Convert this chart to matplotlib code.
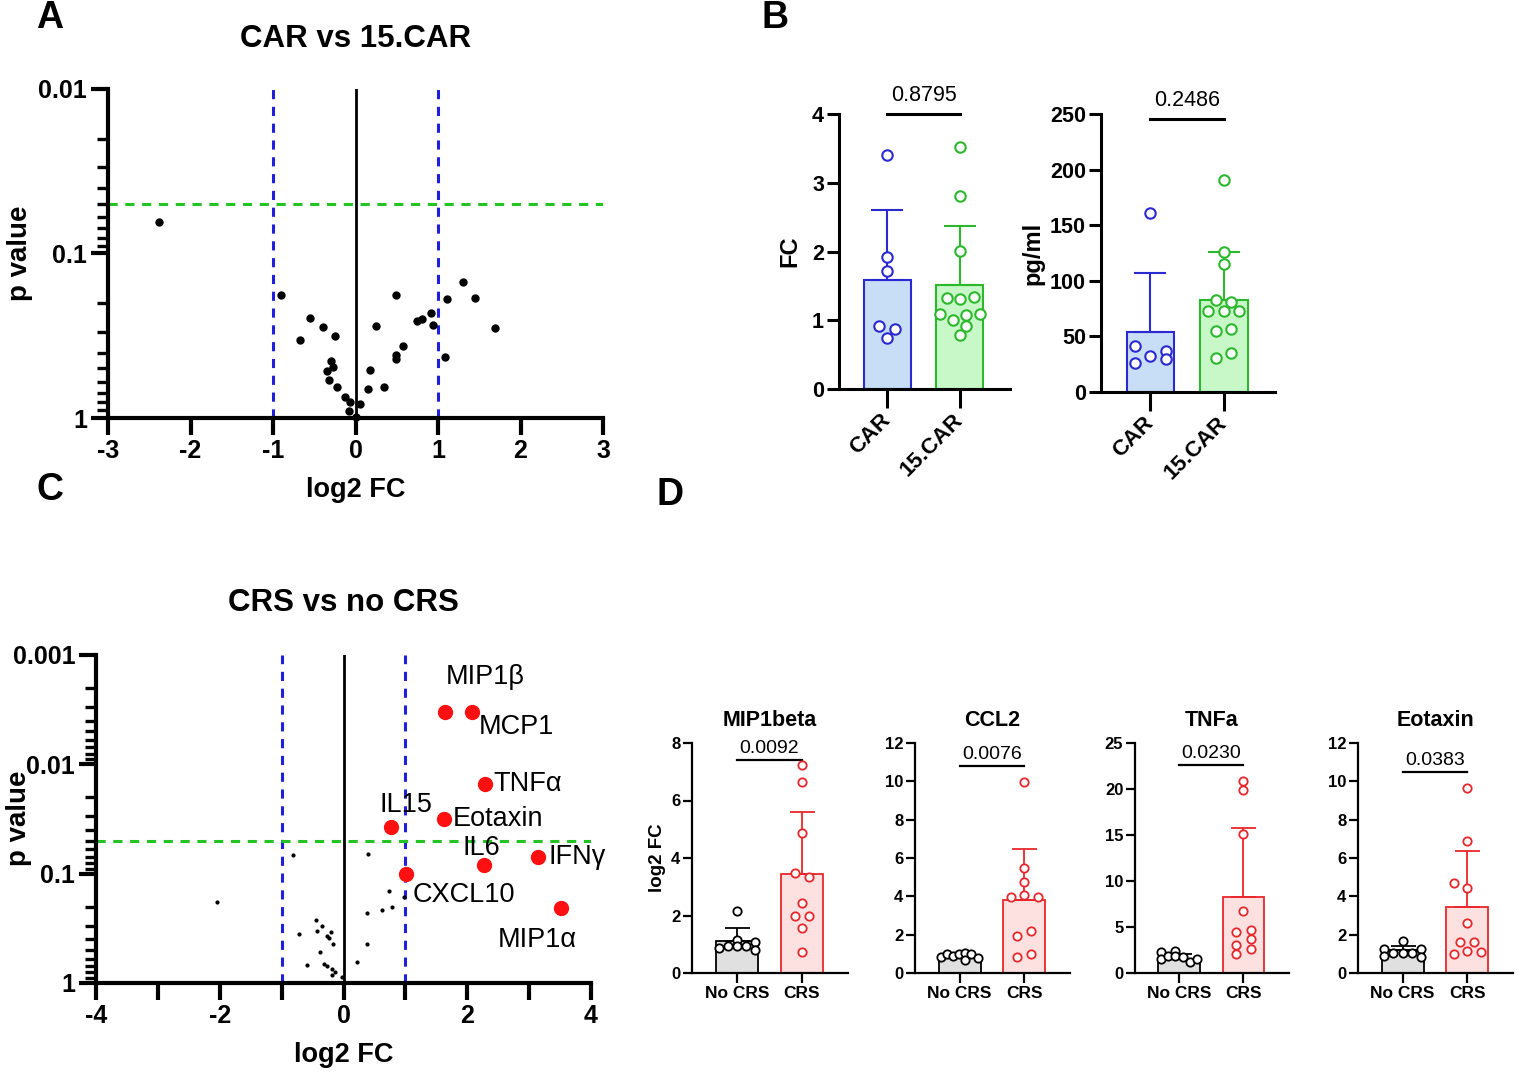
import numpy as np
import matplotlib
matplotlib.use("Agg")
import matplotlib.pyplot as plt
from matplotlib.ticker import LogLocator, NullFormatter, FixedLocator, FixedFormatter

plt.rcParams['font.family'] = ['Liberation Sans', 'DejaVu Sans']

W, H = 1520, 1078

# ---------------- DATA ----------------
# Panel A: CAR vs 15.CAR volcano
a_log2fc = [-2.38, -0.90, -0.55, -0.67, -0.39, -0.25, -0.30, -0.27, -0.34, -0.32,
            -0.23, -0.13, -0.07, -0.08, 0.05, 0.00, 0.17, 0.15, 0.34, 0.25,
            0.49, 0.49, 0.49, 0.58, 0.74, 0.81, 0.92, 0.94, 1.11, 1.09, 1.30, 1.45, 1.69]
a_pval = [0.064, 0.179, 0.246, 0.335, 0.278, 0.318, 0.448, 0.491, 0.520, 0.584,
          0.650, 0.741, 0.803, 0.902, 0.822, 0.990, 0.508, 0.666, 0.650, 0.275,
          0.179, 0.413, 0.439, 0.364, 0.257, 0.249, 0.229, 0.273, 0.189, 0.427, 0.150, 0.186, 0.282]
a_yticks = [1, 0.1, 0.01]
a_yticklabels = ["1", "0.1", "0.01"]

# Panel B
b_groups = ["CAR", "15.CAR"]
b_fc_car = [3.40, 1.92, 1.72, 0.91, 0.87, 0.74]
b_fc_car_dx = [0, 0, 0, -0.11, 0.11, 0]
b_fc_15 = [3.52, 2.81, 2.01, 1.32, 1.31, 1.34, 1.09, 1.08, 1.09, 1.00, 0.92, 0.79]
b_fc_15_dx = [0, 0, 0, -0.18, 0, 0.19, -0.28, 0.09, 0.28, -0.09, 0.09, 0]
b_fc_mean = [1.59, 1.52]
b_fc_sd = [1.02, 0.85]
b_fc_p = "0.8795"

b_pg_car = [160.7, 41.8, 26.3, 32.0, 37.0, 29.6]
b_pg_car_dx = [0, -0.21, -0.21, 0, 0.21, 0.21]
b_pg_15 = [190.9, 126.3, 114.7, 82.4, 80.9, 72.6, 72.6, 72.6, 54.7, 56.7, 30.8, 34.9]
b_pg_15_dx = [0, 0, 0, -0.10, 0.10, -0.21, 0, 0.21, -0.10, 0.10, -0.10, 0.10]
b_pg_mean = [54.3, 82.3]
b_pg_sd = [52.8, 44.0]
b_pg_p = "0.2486"

# Panel C: CRS vs no CRS volcano
c_sig_names = ["MIP1β", "MCP1", "TNFα", "Eotaxin", "IL15", "IL6", "IFNγ", "CXCL10", "MIP1α"]
c_sig_log2fc = [1.64, 2.08, 2.29, 1.63, 0.77, 2.27, 3.15, 1.01, 3.51]
c_sig_pval = [0.00333, 0.00333, 0.0151, 0.0313, 0.0373, 0.0826, 0.0704, 0.1005, 0.205]
c_ns_log2fc = [-0.82, 0.40, -2.04, 0.74, 0.97, 0.78, 0.63, 0.38, 0.38, 0.22,
               -0.45, -0.35, -0.43, -0.20, -0.26, -0.23, -0.17, -0.72, -0.38, -0.59,
               -0.31, -0.27, -0.19, -0.13, -0.18, -0.03]
c_ns_pval = [0.067, 0.066, 0.183, 0.143, 0.164, 0.200, 0.214, 0.228, 0.436, 0.640,
             0.267, 0.303, 0.334, 0.341, 0.371, 0.384, 0.436, 0.353, 0.519, 0.686,
             0.671, 0.705, 0.746, 0.789, 0.839, 0.888]
c_yticks = [1, 0.1, 0.01, 0.001]
c_yticklabels = ["1", "0.1", "0.01", "0.001"]

# Panel D
d_titles = ["MIP1beta", "CCL2", "TNFa", "Eotaxin"]
d_groups = ["No CRS", "CRS"]
d_pvals = ["0.0092", "0.0076", "0.0230", "0.0383"]
d_nocrs = [
    [2.16, 1.16, 0.88, 0.94, 0.94, 0.94, 1.08, 0.79],
    [0.84, 0.98, 0.87, 0.98, 1.06, 0.66, 0.98, 0.78],
    [2.30, 1.55, 1.85, 2.40, 1.80, 1.75, 1.15, 1.55],
    [1.67, 1.27, 0.87, 1.06, 1.06, 1.06, 1.27, 0.84],
]
d_nocrs_dx = [
    [0, 0, -0.28, -0.14, 0, 0.14, 0.28, 0.28],
    [-0.28, -0.19, -0.10, -0.01, 0.09, 0.09, 0.18, 0.28],
    [-0.28, -0.28, -0.17, -0.06, -0.06, 0.06, 0.17, 0.28],
    [0, -0.28, -0.28, -0.14, 0, 0.14, 0.28, 0.28],
]
d_crs = [
    [7.24, 6.65, 4.88, 3.47, 3.34, 2.44, 2.00, 2.00, 1.57, 0.74],
    [9.99, 5.46, 4.76, 4.06, 3.94, 3.94, 2.20, 1.94, 0.84, 0.98],
    [20.9, 19.9, 15.1, 6.70, 4.42, 4.71, 3.73, 3.08, 2.64, 2.10],
    [9.63, 6.87, 4.69, 4.43, 2.60, 1.62, 1.62, 1.15, 1.01, 1.12],
]
d_crs_dx = [
    [0, 0, 0, -0.11, 0.11, 0, -0.11, 0.11, 0, 0],
    [0, 0, 0, 0, -0.21, 0.21, 0.11, -0.11, -0.11, 0.11],
    [0, 0, 0, 0, -0.11, 0.11, 0.11, -0.11, 0.11, -0.11],
    [0, 0, -0.21, 0, 0, -0.11, 0.11, 0, -0.21, 0.21],
]
d_mean_nocrs = [1.10, 0.90, 1.55, 1.18]
d_sd_nocrs = [0.45, 0.10, 0.55, 0.23]
d_mean_crs = [3.43, 3.80, 8.30, 3.46]
d_sd_crs = [2.17, 2.68, 7.42, 2.92]
d_ymax = [8, 12, 25, 12]
d_ystep = [2, 2, 5, 2]
d_line_y = [7.42, 10.8, 22.6, 10.5]

# ---------------- FIGURE ----------------
fig = plt.figure(figsize=(W / 100, H / 100), dpi=100)


def add_ax(x0, y0, x1, y1):
    return fig.add_axes([x0 / W, 1 - y1 / H, (x1 - x0) / W, (y1 - y0) / H])


def ftext(x, y, s, **kw):
    fig.text(x / W, 1 - y / H, s, **kw)


def volcano_style(ax, xticks, xlabels, yticks, ylabels, lw=3.0):
    ax.set_yscale("log")
    for s in ["top", "right"]:
        ax.spines[s].set_visible(False)
    for s in ["left", "bottom"]:
        ax.spines[s].set_linewidth(lw)
    ax.yaxis.set_major_locator(FixedLocator(yticks))
    ax.yaxis.set_major_formatter(FixedFormatter(ylabels))
    ax.yaxis.set_minor_locator(LogLocator(base=10, subs=np.arange(2, 10)))
    ax.yaxis.set_minor_formatter(NullFormatter())
    ax.xaxis.set_major_locator(FixedLocator(xticks))
    ax.xaxis.set_major_formatter(FixedFormatter(xlabels))
    ax.tick_params(axis="both", which="major", width=lw, length=12, labelsize=18, pad=3)
    ax.tick_params(axis="y", which="minor", width=lw * 0.8, length=8)
    for lab in ax.get_xticklabels() + ax.get_yticklabels():
        lab.set_fontweight("bold")


# Panel A
axA = add_ax(108, 89, 603, 418)
axA.set_yscale("log")
axA.axvline(0, color="black", lw=2)
for xv in (-1, 1):
    axA.axvline(xv, color="#1f1fdc", lw=2.2, ls=(0, (3, 2.5)))
axA.axhline(0.05, color="#22c322", lw=2.2, ls=(0, (3, 2.5)))
axA.plot(a_log2fc, a_pval, "o", color="black", ms=5, clip_on=False, zorder=5)
volcano_style(axA, list(range(-3, 4)), [str(v) for v in range(-3, 4)], a_yticks, a_yticklabels)
axA.set_xlim(-3, 3)
axA.set_ylim(1, 0.01)
axA.set_xlabel("log2 FC", fontsize=19.5, fontweight="bold", labelpad=10)
axA.set_title("CAR vs 15.CAR", fontsize=22.5, fontweight="bold", pad=30)
ftext(20, 253, "p value", fontsize=20, fontweight="bold", rotation=90, ha="center", va="center")

# Panel C
axC = add_ax(96, 655, 591, 983)
axC.set_yscale("log")
axC.axvline(0, color="black", lw=2)
for xv in (-1, 1):
    axC.axvline(xv, color="#1f1fdc", lw=2.2, ls=(0, (3, 2.5)))
axC.axhline(0.05, color="#22c322", lw=2.2, ls=(0, (3, 2.5)))
axC.plot(c_ns_log2fc, c_ns_pval, "o", color="black", ms=2, zorder=4)
axC.plot(c_sig_log2fc, c_sig_pval, "o", color="#ff1010", ms=10, zorder=5, clip_on=False)
c_offsets = {
    "MIP1β": (29, 25, "center"), "MCP1": (32, -11, "center"), "TNFα": (6, 0, "left"),
    "Eotaxin": (6, 0, "left"), "IL15": (11, 16, "center"), "IL6": (-2, 12, "center"),
    "IFNγ": (7, 0, "left"), "CXCL10": (5, -15, "left"), "MIP1α": (-17, -23, "center"),
}
for name, xv, pv in zip(c_sig_names, c_sig_log2fc, c_sig_pval):
    dx, dy, ha = c_offsets[name]
    axC.annotate(name, (xv, pv), xytext=(dx, dy), textcoords="offset points",
                 ha=ha, va="center", fontsize=19.5, annotation_clip=False)
volcano_style(axC, list(range(-4, 5)), [str(v) if v % 2 == 0 else "" for v in range(-4, 5)],
              c_yticks, c_yticklabels)
axC.set_xlim(-4, 4)
axC.set_ylim(1, 0.001)
axC.set_xlabel("log2 FC", fontsize=19.5, fontweight="bold", labelpad=10)
axC.set_title("CRS vs no CRS", fontsize=22.5, fontweight="bold", pad=32)
ftext(19, 818, "p value", fontsize=20, fontweight="bold", rotation=90, ha="center", va="center")


def bar_panel(ax, groups, vals_list, dx_list, means, sds, edges, faces, ms, mew,
              lw, ytop, ystep, line_y, ptxt, pfs, tfs, xlim, blw, poff):
    for i, (vals, dxs, m, s, ec, fc) in enumerate(zip(vals_list, dx_list, means, sds, edges, faces)):
        ax.bar(i, m, width=0.65, color=fc, edgecolor=ec, linewidth=blw, zorder=2)
        ax.errorbar(i, m, yerr=[[0], [s]], color=ec, lw=blw, capsize=ms * 1.5,
                    capthick=blw, zorder=3)
        ax.plot(np.array(dxs) + i, vals, "o", mfc="white", mec=ec, mew=mew, ms=ms,
                zorder=4, clip_on=False)
    ax.set_xlim(*xlim)
    ax.set_ylim(0, ytop)
    for s in ["top", "right"]:
        ax.spines[s].set_visible(False)
    for s in ["left", "bottom"]:
        ax.spines[s].set_linewidth(lw)
    ax.set_yticks(np.arange(0, ytop + 0.001, ystep))
    ax.set_xticks(range(len(groups)))
    ax.tick_params(axis="both", width=lw, length=lw * 4, labelsize=tfs, pad=2)
    for lab in ax.get_yticklabels():
        lab.set_fontweight("bold")
    ax.plot([0, 1], [line_y, line_y], color="black", lw=lw, clip_on=False)
    ax.annotate(ptxt, (0.5, line_y), xytext=(0, poff), textcoords="offset points",
                ha="center", va="bottom", fontsize=pfs, annotation_clip=False)


# Panel B
blue_e, blue_f = "#2a2ad0", "#c8ddf6"
green_e, green_f = "#2cb82c", "#c8f8c8"
axB1 = add_ax(839, 114, 1010, 389)
bar_panel(axB1, b_groups, [b_fc_car, b_fc_15], [b_fc_car_dx, b_fc_15_dx], b_fc_mean, b_fc_sd,
          [blue_e, green_e], [blue_f, green_f], 7.5, 1.5, 2.2, 4, 1, 4.0, b_fc_p, 15.5, 15.5,
          (-0.665, 1.69), 1.5, 6)
axB1.set_ylabel("FC", fontsize=17, fontweight="bold", labelpad=8)
axB2 = add_ax(1101, 114, 1275, 392)
bar_panel(axB2, b_groups, [b_pg_car, b_pg_15], [b_pg_car_dx, b_pg_15_dx], b_pg_mean, b_pg_sd,
          [blue_e, green_e], [blue_f, green_f], 7.5, 1.5, 2.2, 250, 50, 245.5, b_pg_p, 15.5, 15.5,
          (-0.673, 1.70), 1.5, 6)
axB2.set_ylabel("pg/ml", fontsize=17, fontweight="bold", labelpad=4)
for ax in (axB1, axB2):
    ax.set_xticklabels(b_groups, rotation=45, ha="right", va="center",
                       rotation_mode="anchor", fontsize=16, fontweight="bold")
    ax.tick_params(axis="x", length=14, pad=6)

# Panel D
d_x = [(692, 848), (915, 1070), (1135, 1289), (1358, 1513)]
for k in range(4):
    x0, x1 = d_x[k]
    ax = add_ax(x0, 743, x1, 973)
    bar_panel(ax, d_groups, [d_nocrs[k], d_crs[k]], [d_nocrs_dx[k], d_crs_dx[k]],
              [d_mean_nocrs[k], d_mean_crs[k]], [d_sd_nocrs[k], d_sd_crs[k]],
              ["black", "#e8262b"], ["#e0e0e0", "#fde0e0"], 6, 1.3, 1.6,
              d_ymax[k], d_ystep[k], d_line_y[k], d_pvals[k], 14, 12,
              (-0.689, 1.709), 1.3, 2)
    ax.set_xticklabels(d_groups, fontsize=12.5, fontweight="bold")
    ax.tick_params(axis="x", length=7, pad=2)
    ax.set_title(d_titles[k], fontsize=15.5, fontweight="bold", pad=12)
    if k == 0:
        ax.set_ylabel("log2 FC", fontsize=13.5, fontweight="bold", labelpad=4)

# Panel letters
for letter, (x, y) in {"A": (50, 18), "B": (775, 18), "C": (50, 490), "D": (670, 495)}.items():
    ftext(x, y, letter, fontsize=27, fontweight="bold", ha="center", va="center")

fig.savefig("out.png", dpi=100)
